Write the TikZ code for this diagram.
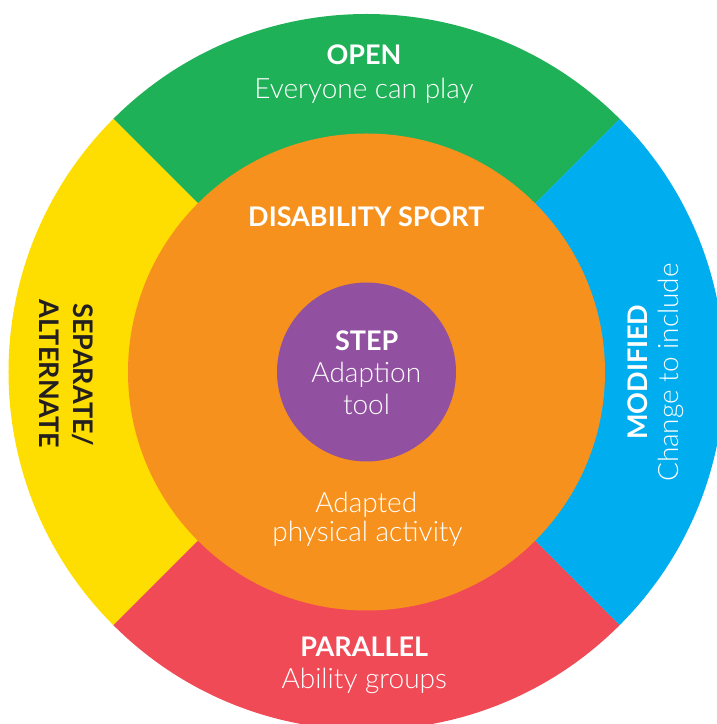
\documentclass[tikz,border=0pt]{standalone}
\usepackage{fontspec}
\setmainfont{Lato}
\newfontfamily\latolight{Lato Light}
\definecolor{cgreen}{HTML}{1EB157}
\definecolor{cyellow}{HTML}{FEDD00}
\definecolor{cblue}{HTML}{00AEEF}
\definecolor{cred}{HTML}{EF4A56}
\definecolor{corange}{HTML}{F7911E}
\definecolor{cpurple}{HTML}{9150A0}
\definecolor{cdark}{HTML}{231F20}
\tikzset{
  hd/.style={text=white, font=\fontsize{27}{32}\selectfont\bfseries, inner sep=0pt, anchor=base},
  hdk/.style={hd, text=cdark},
  sub/.style={text=white, font=\fontsize{28}{32}\selectfont\latolight, inner sep=0pt, anchor=base}
}
\begin{document}
\begin{tikzpicture}[x=1pt,y=1pt]
\useasboundingbox (0,0) rectangle (717,724);
\coordinate (C) at (366.5,352);
% outer ring sectors
\fill[cgreen] (C) -- ++(45:358pt) arc[start angle=45,end angle=135,radius=358pt] -- cycle;
\fill[cyellow] (C) -- ++(135:358pt) arc[start angle=135,end angle=225,radius=358pt] -- cycle;
\fill[cred] (C) -- ++(225:358pt) arc[start angle=225,end angle=315,radius=358pt] -- cycle;
\fill[cblue] (C) -- ++(-45:358pt) arc[start angle=-45,end angle=45,radius=358pt] -- cycle;
% inner circles
\fill[corange] (C) circle[radius=238.5pt];
\fill[cpurple] (C) circle[radius=89.5pt];
% texts
\node[hd] (open) at (364,659) {OPEN};
\node[sub] (opensub) at (364,625.7) {Everyone can play};
\node[hd] (ds) at (366.3,497.3) {DISABILITY SPORT};
\node[hd] (step) at (366.7,373) {STEP};
\node[sub] (adaption) at (366.3,341.3) {Adaption};
\node[sub] (tool) at (366.5,309.7) {tool};
\node[sub] (adapted) at (366.2,211.7) {Adapted};
\node[sub] (apa) at (367.5,182.3) {physical activity};
\node[hd] (par) at (364.2,67.3) {PARALLEL};
\node[sub] (abil) at (364.2,35.7) {Ability groups};
\node[hd, rotate=90] (mod) at (647.7,351.8) {MODIFIED};
\node[sub, rotate=90] (chg) at (678.5,351.5) {Change to include};
\node[hdk, rotate=-90] (sep) at (73,349) {SEPARATE/};
\node[hdk, rotate=-90] (alt) at (39.5,350) {ALTERNATE};
\end{tikzpicture}
\end{document}
